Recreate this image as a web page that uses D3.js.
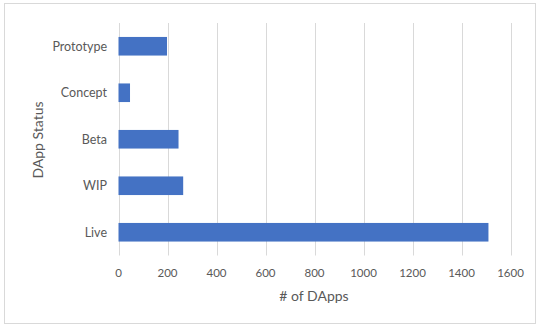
<!DOCTYPE html>
<html><head><meta charset="utf-8">
<script src="https://cdn.jsdelivr.net/npm/d3@7"></script>
<style>body{margin:0;background:#fff}svg{display:block}text{font-family:Lato,"Open Sans",sans-serif;fill:#595959}</style>
</head><body>
<script>
const categories = ["Prototype","Concept","Beta","WIP","Live"];
const values = [198, 47, 245, 264, 1510];
const xTicks = [0,200,400,600,800,1000,1200,1400,1600];
const xTitle = "# of DApps";
const yTitle = "DApp Status";

const W = 537, H = 325;
const svg = d3.select("body").append("svg").attr("width", W).attr("height", H);
svg.append("rect").attr("x",4.5).attr("y",3.5).attr("width",531).attr("height",320)
  .attr("fill","#fff").attr("stroke","#d9d9d9");

const x = d3.scaleLinear().domain([0,1600]).range([118.5,510.5]);
const y = d3.scaleBand().domain(categories).range([23,255.5]).paddingInner(0.6).paddingOuter(0.3);

svg.append("g").selectAll("line").data(xTicks).join("line")
  .attr("x1", d=>Math.round(x(d))+0.5).attr("x2", d=>Math.round(x(d))+0.5)
  .attr("y1", 23).attr("y2", 255.5).attr("stroke","#d9d9d9").attr("stroke-width",1);

svg.append("g").selectAll("rect").data(values).join("rect")
  .attr("x", x(0)).attr("y", (d,i)=>y(categories[i]))
  .attr("width", d=>x(d)-x(0)).attr("height", y.bandwidth()).attr("fill","#4472C4");

svg.append("g").selectAll("text").data(xTicks).join("text")
  .attr("x", d=>x(d)).attr("y", 277).attr("text-anchor","middle")
  .attr("font-size", 11.5).text(d=>d);

svg.append("g").selectAll("text").data(categories).join("text")
  .attr("x", 107).attr("y", d=>y(d)+y.bandwidth()/2+4.5).attr("text-anchor","end")
  .attr("font-size", 12.5).text(d=>d);

svg.append("text").attr("x", 314).attr("y", 301).attr("text-anchor","middle")
  .attr("font-size", 14).text(xTitle);
svg.append("text").attr("transform","translate(43,140) rotate(-90)").attr("text-anchor","middle")
  .attr("font-size", 14).text(yTitle);
</script>
</body></html>
